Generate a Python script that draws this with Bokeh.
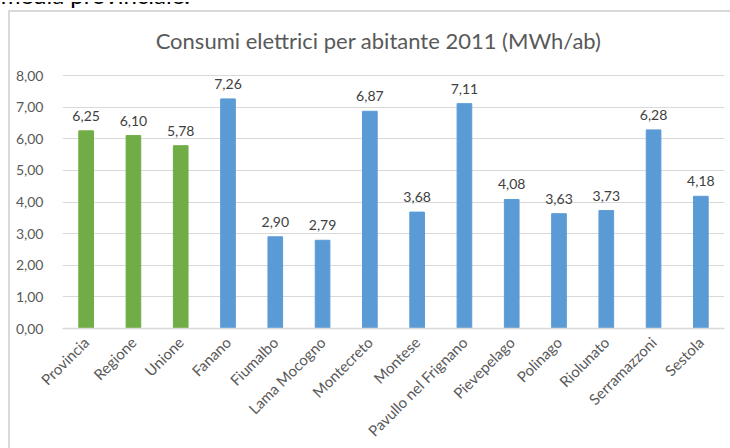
import math
from bokeh.plotting import figure
from bokeh.layouts import column
from bokeh.core.properties import value
from bokeh.models import (ColumnDataSource, FactorRange, Range1d, LabelSet, Label, Div,
                          CustomJSTickFormatter, FixedTicker)
from bokeh.embed import file_html
from bokeh.resources import INLINE

categories = ["Provincia", "Regione", "Unione", "Fanano", "Fiumalbo", "Lama Mocogno",
              "Montecreto", "Montese", "Pavullo nel Frignano", "Pievepelago", "Polinago",
              "Riolunato", "Serramazzoni", "Sestola"]
values = [6.25, 6.10, 5.78, 7.26, 2.90, 2.79, 6.87, 3.68, 7.11, 4.08, 3.63, 3.73, 6.28, 4.18]
groups = ["ref", "ref", "ref"] + ["comune"] * 11
y_ticks = [0, 1, 2, 3, 4, 5, 6, 7, 8]
title_text = "Consumi elettrici per abitante 2011 (MWh/ab)"
top_text = "media provinciale."

GREEN = "#70AD47"
BLUE = "#5B9BD5"
colors = [GREEN if g == "ref" else BLUE for g in groups]
labels = [("%.2f" % v).replace(".", ",") for v in values]

source = ColumnDataSource(dict(cat=categories, val=values, color=colors, lbl=labels))

FONT = "Lato"

# layout geometry (figure canvas starts at page x=10, y=12; it runs past the window edge,
# like the reference chart whose box continues beyond the picture)
FIG_W, FIG_H = 723, 439
AXIS_TOP_PX = 63      # canvas y of the 8,00 gridline
AXIS_BOTTOM_PX = 316  # canvas y of the 0,00 baseline
FRAME_RIGHT_PX = 714  # canvas x of the right end of the gridlines
y_top = max(y_ticks)
y_end = y_top * AXIS_BOTTOM_PX / (AXIS_BOTTOM_PX - AXIS_TOP_PX)  # room for the title inside the frame

grey = "#d9d9d9"
p = figure(width=FIG_W, height=FIG_H, x_range=FactorRange(*categories, range_padding=0),
           y_range=Range1d(0, y_end), output_backend="svg", toolbar_location=None,
           min_border_left=52, min_border_right=FIG_W - FRAME_RIGHT_PX, min_border_top=0,
           min_border_bottom=FIG_H - AXIS_BOTTOM_PX, margin=(0, 0, 0, 8),
           styles={"border-top": f"2px solid {grey}", "border-left": f"2px solid {grey}"})
p.outline_line_color = None
p.background_fill_color = "white"
p.border_fill_color = "white"

p.vbar(x="cat", top="val", width=0.31, color="color", source=source)

p.add_layout(LabelSet(x="cat", y="val", text="lbl", source=source, text_align="center",
                      text_baseline="alphabetic", y_offset=10, text_font=value(FONT),
                      text_font_size="14px", text_color="#404040"))

# title
p.add_layout(Label(x=366, y=26, x_units="canvas", y_units="canvas", text=title_text,
                   text_align="center", text_baseline="alphabetic", text_font=FONT,
                   text_font_size="22px", text_color="#595959"))

# axes
p.yaxis.ticker = FixedTicker(ticks=y_ticks)
p.yaxis.formatter = CustomJSTickFormatter(code="return tick.toFixed(2).replace('.', ',');")
p.yaxis.axis_line_color = None
p.yaxis.major_tick_line_color = None
p.yaxis.minor_tick_line_color = None
p.yaxis.major_label_standoff = 13
p.yaxis.major_label_text_font = FONT
p.yaxis.major_label_text_font_size = "14px"
p.yaxis.major_label_text_color = "#595959"

p.xaxis.axis_line_color = grey
p.xaxis.axis_line_width = 1.5
p.xaxis.major_tick_line_color = None
p.xaxis.minor_tick_line_color = None
p.xaxis.major_label_orientation = math.pi / 4
p.xaxis.major_label_standoff = 5
p.xaxis.major_label_text_font = FONT
p.xaxis.major_label_text_font_size = "15px"
p.xaxis.major_label_text_color = "#595959"

p.xgrid.grid_line_color = None
p.ygrid.grid_line_color = grey
p.ygrid.grid_line_width = 1

# cut-off text of the surrounding document (only its lower part is visible)
top_div = Div(
    text=('<div style="position:relative;width:730px;height:10px;overflow:hidden;">'
          '<span style="position:absolute;right:540px;top:-19px;line-height:24px;'
          'font-family:Lato;font-size:24px;color:#000;white-space:nowrap;">'
          + top_text + '</span></div>'),
    width=730, height=10, margin=0)

layout = column(top_div, p, width=730, height=448, margin=0, spacing=0,
                styles={"overflow": "hidden", "width": "730px", "height": "448px"})

open("out.html", "w").write(file_html(layout, INLINE))
